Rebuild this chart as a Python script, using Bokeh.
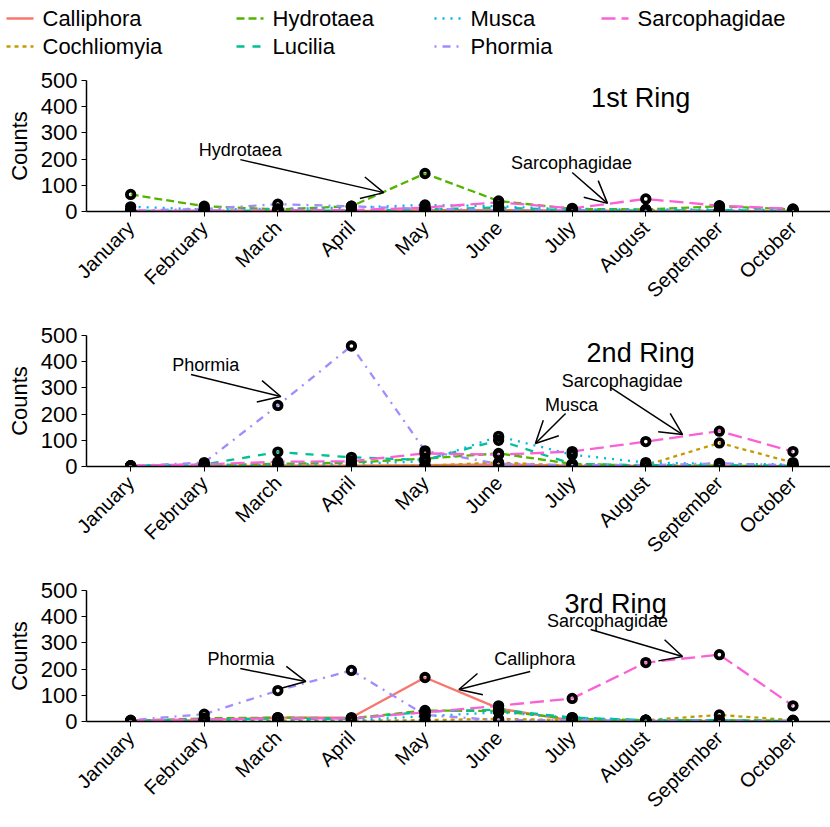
import math
from bokeh.plotting import figure
from bokeh.layouts import column
from bokeh.models import Range1d, FixedTicker, Arrow, OpenHead, Label
from bokeh.core.properties import value
from bokeh.embed import file_html
from bokeh.resources import INLINE

months = ["January", "February", "March", "April", "May", "June",
          "July", "August", "September", "October"]
species = ["Calliphora", "Cochliomyia", "Hydrotaea", "Lucilia",
           "Musca", "Phormia", "Sarcophagidae"]
y_ticks = [0, 100, 200, 300, 400, 500]

ring1 = {
    "Calliphora":    [2, 1, 2, 1, 5, 5, 3, 2, 1, 1],
    "Cochliomyia":   [0, 0, 1, 1, 2, 3, 2, 5, 3, 2],
    "Hydrotaea":     [65, 20, 8, 20, 145, 40, 10, 8, 20, 8],
    "Lucilia":       [2, 3, 3, 3, 8, 15, 5, 3, 5, 3],
    "Musca":         [18, 8, 10, 15, 25, 20, 8, 8, 8, 5],
    "Phormia":       [3, 10, 28, 20, 10, 5, 3, 2, 2, 1],
    "Sarcophagidae": [2, 3, 5, 5, 15, 35, 12, 48, 22, 10],
}
ring2 = {
    "Calliphora":    [1, 2, 3, 3, 5, 8, 3, 2, 2, 1],
    "Cochliomyia":   [0, 1, 2, 2, 3, 15, 3, 5, 90, 15],
    "Hydrotaea":     [2, 5, 10, 15, 30, 50, 10, 3, 3, 2],
    "Lucilia":       [3, 8, 55, 35, 25, 100, 10, 5, 5, 3],
    "Musca":         [2, 5, 8, 10, 20, 115, 45, 15, 10, 8],
    "Phormia":       [2, 15, 233, 460, 60, 10, 5, 5, 12, 5],
    "Sarcophagidae": [3, 8, 18, 20, 50, 45, 57, 95, 135, 57],
}
ring3 = {
    "Calliphora":    [2, 5, 15, 15, 168, 50, 3, 2, 2, 1],
    "Cochliomyia":   [0, 2, 3, 3, 5, 10, 5, 5, 25, 5],
    "Hydrotaea":     [3, 12, 15, 12, 42, 40, 10, 5, 5, 3],
    "Lucilia":       [2, 8, 10, 10, 38, 45, 15, 5, 5, 2],
    "Musca":         [1, 3, 5, 5, 20, 35, 15, 5, 3, 2],
    "Phormia":       [5, 28, 118, 195, 25, 5, 5, 3, 3, 2],
    "Sarcophagidae": [3, 8, 12, 12, 35, 60, 88, 225, 255, 60],
}

colors = {
    "Calliphora": "#F8766D", "Cochliomyia": "#C49A00", "Hydrotaea": "#53B400",
    "Lucilia": "#00C094", "Musca": "#00B6EB", "Phormia": "#A58AFF",
    "Sarcophagidae": "#FB61D7",
}
dashes = {
    "Calliphora": "solid", "Cochliomyia": "4 4", "Hydrotaea": "8 4",
    "Lucilia": "8 8", "Musca": "2 6", "Phormia": "2 6 8 6",
    "Sarcophagidae": "14 6",
}

FONT = "Liberation Sans"

# annotations: (text, label_x, label_y, tail_x, tail_y, head_x, head_y)
notes1 = [("Hydrotaea", 1.49, 233, 1.49, 198, 3.44, 72),
          ("Sarcophagidae", 5.99, 187, 6.0, 149, 6.48, 31)]
notes2 = [("Phormia", 1.02, 389, 0.82, 351, 2.04, 267),
          ("Musca", 5.99, 233, 5.91, 202, 5.5, 88),
          ("Sarcophagidae", 6.68, 328, 6.52, 302, 7.5, 122)]
notes3 = [("Phormia", 1.5, 240, 1.49, 202, 2.38, 153),
          ("Calliphora", 5.49, 237, 5.43, 191, 4.46, 122),
          ("Sarcophagidae", 6.48, 382, 6.25, 351, 7.5, 248)]


def make_panel(data, title, tx, ty, notes):
    p = figure(width=830, height=255, x_range=Range1d(-0.6, 9.51),
               y_range=Range1d(0, 500), output_backend="svg",
               toolbar_location=None, min_border_left=86, min_border_right=0,
               min_border_top=18, min_border_bottom=106)
    p.frame_align = False
    p.outline_line_color = None
    p.grid.visible = False
    x = list(range(len(months)))
    for sp in species:
        p.line(x, data[sp], line_color=colors[sp], line_width=2.3,
               line_dash=dashes[sp])
    for sp in species:
        p.scatter(x, data[sp], size=7.5, line_color="black", line_width=3.8,
                  fill_color=None)
    p.xaxis.ticker = FixedTicker(ticks=x)
    p.xaxis.major_label_overrides = {i: m for i, m in enumerate(months)}
    p.xaxis.major_label_orientation = math.pi / 4
    p.xaxis.major_label_text_font_size = "20px"
    p.xaxis.major_label_standoff = 8
    p.yaxis.ticker = FixedTicker(ticks=y_ticks)
    p.yaxis.major_label_text_font_size = "22px"
    p.yaxis.major_label_standoff = 4
    p.yaxis.axis_label = "Counts"
    p.yaxis.axis_label_text_font_size = "22px"
    p.yaxis.axis_label_text_font_style = "normal"
    p.yaxis.axis_label_text_font = FONT
    p.yaxis.axis_label_text_color = "black"
    p.yaxis.axis_label_standoff = 6
    p.axis.minor_tick_line_color = None
    p.axis.major_tick_in = 0
    p.axis.major_tick_out = 5
    p.axis.major_tick_line_color = "black"
    p.axis.axis_line_color = "black"
    p.axis.axis_line_width = 1.5
    p.axis.major_label_text_color = "black"
    p.axis.major_label_text_font = FONT
    p.add_layout(Label(x=tx, y=ty, text=title, text_align="center",
                       text_baseline="middle", text_font=FONT,
                       text_font_size="27px", text_color="black"))
    for (t, lx, ly, sx, sy, ex, ey) in notes:
        p.add_layout(Label(x=lx, y=ly, text=t, text_align="center",
                           text_baseline="middle", text_font=FONT,
                           text_font_size="18px", text_color="black"))
        p.add_layout(Arrow(end=OpenHead(size=22, line_width=1.5, line_color="black"),
                           x_start=sx, y_start=sy, x_end=ex, y_end=ey,
                           line_width=1.5, line_color="black"))
    return p


# legend strip (pixel coordinates, y measured from top)
leg = figure(width=830, height=62, output_backend="svg", toolbar_location=None,
             min_border=0, x_range=Range1d(0, 830), y_range=Range1d(62, 0))
leg.frame_align = False
leg.axis.visible = False
leg.grid.visible = False
leg.outline_line_color = None
leg_cols = [["Calliphora", "Cochliomyia"], ["Hydrotaea", "Lucilia"],
            ["Musca", "Phormia"], ["Sarcophagidae"]]
leg_x = [6, 236, 434, 601]
leg_rows = [18, 46]
for cols, lx in zip(leg_cols, leg_x):
    for sp, ly in zip(cols, leg_rows):
        leg.line([lx, lx + 27], [ly, ly], line_color=colors[sp], line_width=2.3,
                 line_dash=dashes[sp])
        leg.text(x=[lx + 36], y=[ly], text=[sp], text_baseline="middle",
                 text_align="left", text_font=value(FONT),
                 text_font_size="22px", text_color="black")

p1 = make_panel(ring1, "1st Ring", 6.93, 435, notes1)
p2 = make_panel(ring2, "2nd Ring", 6.93, 435, notes2)
p3 = make_panel(ring3, "3rd Ring", 6.59, 450, notes3)

layout = column(leg, p1, p2, p3, spacing=0)
open("out.html", "w").write(file_html(layout, INLINE))
